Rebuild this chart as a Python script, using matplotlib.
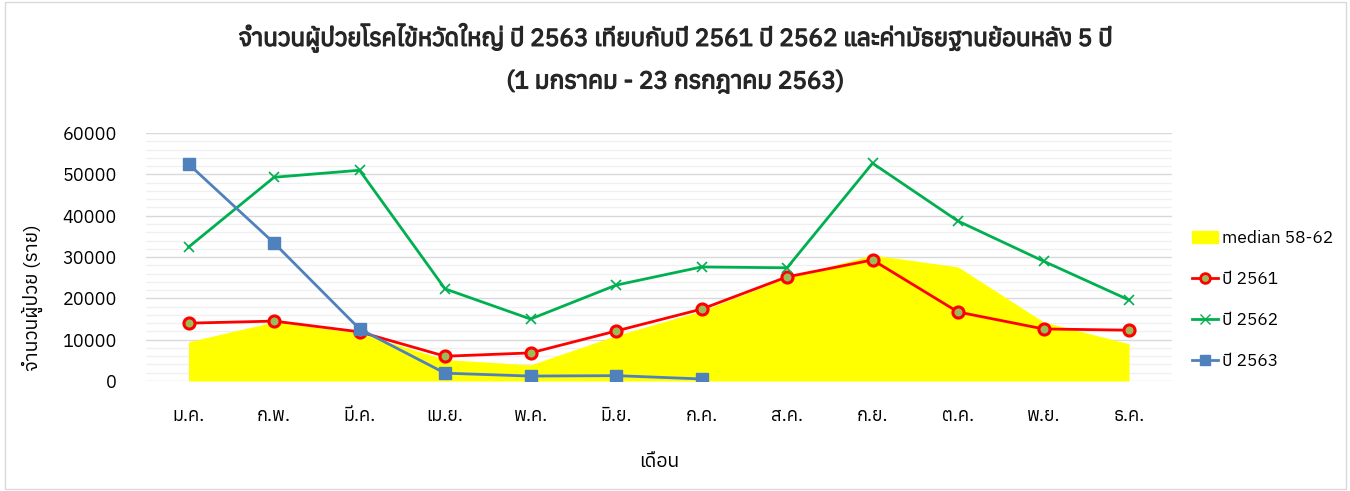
import matplotlib
matplotlib.use('Agg')
import matplotlib.pyplot as plt
import matplotlib.patheffects as pe
from matplotlib import font_manager, ft2font
from matplotlib.patches import Patch, Rectangle
from matplotlib.ticker import MultipleLocator

# find an installed font that has Thai glyphs
thai_fonts = []
for f in font_manager.fontManager.ttflist:
    try:
        if 0x0E08 in ft2font.FT2Font(f.fname).get_charmap():
            thai_fonts.append(f.name)
    except Exception:
        pass
plt.rcParams['font.family'] = sorted(set(thai_fonts)) + ['DejaVu Sans']

months = ['ม.ค.', 'ก.พ.', 'มี.ค.', 'เม.ย.', 'พ.ค.', 'มิ.ย.',
          'ก.ค.', 'ส.ค.', 'ก.ย.', 'ต.ค.', 'พ.ย.', 'ธ.ค.']
median_58_62 = [9500, 14300, 11600, 5200, 3900, 11000,
                17000, 25000, 30500, 27600, 14300, 9000]
y2561 = [14000, 14500, 11900, 6000, 6800, 12100,
         17400, 25200, 29300, 16700, 12600, 12300]
y2562 = [32400, 49300, 51000, 22300, 15000, 23200,
         27600, 27400, 52700, 38700, 29000, 19600]
y2563 = [52500, 33400, 12600, 1900, 1200, 1300, 500]

title1 = ('จำนวนผู้ป่วยโรคไข้หวัดใหญ่ ปี 2563 เทียบกับปี 2561 ปี 2562 '
          'และค่ามัธยฐานย้อนหลัง 5 ปี')
title2 = '(1 มกราคม - 23 กรกฎาคม 2563)'

fig = plt.figure(figsize=(13.5, 4.91), dpi=100)
fig.patches.append(Rectangle((0.004, 0.004), 0.993, 0.992, transform=fig.transFigure,
                             fill=False, edgecolor='#D9D9D9', linewidth=1))
ax = fig.add_axes([0.108, 0.224, 0.76, 0.505])

x = list(range(len(months)))
ax.fill_between(x, median_58_62, 0, color='#FFFF00', linewidth=0, zorder=2)
ax.plot(x, y2561, color='#FF0000', linewidth=2, marker='o', markersize=8,
        markerfacecolor='#9BBB59', markeredgecolor='#FF0000', markeredgewidth=2.2, zorder=3)
ax.plot(x, y2562, color='#00B050', linewidth=2, marker='x', markersize=7,
        markeredgewidth=1.2, zorder=4)
ax.plot(x[:len(y2563)], y2563, color='#4F81BD', linewidth=2, marker='s', markersize=8,
        markerfacecolor='#4F81BD', markeredgecolor='#4F81BD', zorder=5)

ax.set_xlim(-0.5, 11.5)
ax.set_ylim(0, 60000)
ax.set_xticks(x)
ax.set_xticklabels(months, fontsize=13)
ax.yaxis.set_major_locator(MultipleLocator(10000))
ax.yaxis.set_minor_locator(MultipleLocator(2000))
ax.tick_params(axis='y', labelsize=13, length=0, which='both', pad=21)
ax.tick_params(axis='x', length=0, pad=19)
ax.grid(axis='y', which='major', color='#D9D9D9', linewidth=1, zorder=0)
ax.grid(axis='y', which='minor', color='#F0F0F0', linewidth=1, zorder=0)
ax.set_axisbelow(True)
for s in ['top', 'right', 'left', 'bottom']:
    ax.spines[s].set_visible(False)

ax.set_xlabel('เดือน', fontsize=14, labelpad=20)
ax.set_ylabel('จำนวนผู้ป่วย (ราย)', fontsize=14)
ax.yaxis.set_label_coords(-0.100, 0.335)

bold = [pe.withStroke(linewidth=0.9, foreground='#262626')]
fig.text(0.5, 0.9226, title1, fontsize=17.5, color='#262626', ha='center', va='center',
         path_effects=bold)
fig.text(0.5, 0.833, title2, fontsize=17.5, color='#262626', ha='center', va='center',
         path_effects=bold)

handles = [Patch(color='#FFFF00', label='median 58-62'),
           plt.Line2D([], [], color='#FF0000', linewidth=2, marker='o', markersize=7,
                      markerfacecolor='#9BBB59', markeredgecolor='#FF0000',
                      markeredgewidth=2, label='ปี 2561'),
           plt.Line2D([], [], color='#00B050', linewidth=2, marker='x', markersize=7,
                      label='ปี 2562'),
           plt.Line2D([], [], color='#4F81BD', linewidth=2, marker='s', markersize=7,
                      label='ปี 2563')]
fig.legend(handles=handles, loc='center left', bbox_to_anchor=(0.874, 0.39),
           frameon=False, fontsize=12.5, labelspacing=1.45, handlelength=1.5,
           handletextpad=0.2, borderpad=0.2)

fig.savefig('out.png', dpi=100)
